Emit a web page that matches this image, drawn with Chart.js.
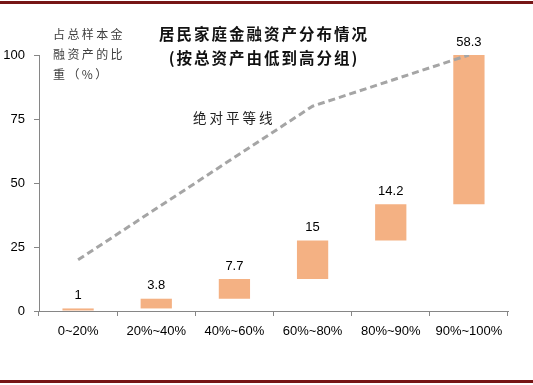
<!DOCTYPE html>
<html lang="zh-CN">
<head>
<meta charset="UTF-8">
<title>居民家庭金融资产分布情况</title>
<script src="https://cdn.jsdelivr.net/npm/chart.js"></script>
<style>
  body { margin: 0; background: #fff; }
  .wrap { position: relative; width: 533px; height: 385px; }
  .rule { position: absolute; left: 0; width: 533px; height: 3px; background: #761515; }
  .txt { position: absolute; font-family: "Noto Sans CJK SC", sans-serif; white-space: nowrap; }
  .title { left: 0; width: 528px; text-align: center; font-size: 15.5px; font-weight: bold; color: #111; letter-spacing: 2px; line-height: 22px; }
  .ytitle { left: 53px; top: 24px; font-size: 12px; color: #404040; letter-spacing: 2.4px; line-height: 20px; }
  .eq { left: 193px; top: 107px; font-size: 13.5px; color: #222; letter-spacing: 3px; }
</style>
</head>
<body>
<div class="wrap">
  <canvas id="c"></canvas>
  <div class="rule" style="top:1px"></div>
  <div class="rule" style="top:380px"></div>
  <div class="txt title" style="top:22px">居民家庭金融资产分布情况</div>
  <div class="txt title" style="top:46px">(按总资产由低到高分组)</div>
  <div class="txt ytitle">占总样本金<br>融资产的比<br>重（%）</div>
  <div class="txt eq">绝对平等线</div>
</div>
<script>
const categories = ['0~20%', '20%~40%', '40%~60%', '60%~80%', '80%~90%', '90%~100%'];
const shares = [1, 3.8, 7.7, 15, 14.2, 58.3];
const equalityLine = [20, 40, 60, 80, 90, 100];
const yTicks = [0, 25, 50, 75, 100];

// floating bars: each group sits on top of the running total
let run = 0;
const ranges = shares.map(v => {
    const r = [run, +(run + v).toFixed(1)];
    run += v;
    return r;
});

const valueLabels = {
    id: 'valueLabels',
    afterDatasetsDraw(chart) {
        const ctx = chart.ctx;
        const meta = chart.getDatasetMeta(0);
        ctx.save();
        ctx.font = '13px "Liberation Sans", Arial, sans-serif';
        ctx.fillStyle = '#000';
        ctx.textAlign = 'center';
        ctx.textBaseline = 'middle';
        meta.data.forEach((bar, i) => {
            const top = Math.min(bar.y, bar.base);
            ctx.fillText(String(shares[i]), bar.x, top - 13);
        });
        ctx.restore();
    }
};

new Chart(document.getElementById('c'), {
    data: {
        labels: categories,
        datasets: [{
            type: 'bar',
            data: ranges,
            backgroundColor: '#F4B183',
            barPercentage: 0.4,
            categoryPercentage: 1,
            order: 2
        }, {
            type: 'line',
            data: equalityLine,
            borderColor: '#A5A5A5',
            borderWidth: 3,
            borderDash: [7, 4],
            pointRadius: 0,
            fill: false,
            order: 1
        }]
    },
    options: {
        responsive: true,
        maintainAspectRatio: false,
        animation: false,
        layout: { padding: { top: 55, right: 25, left: 0, bottom: 0 } },
        plugins: { legend: { display: false }, tooltip: { enabled: false }, title: { display: false } },
        scales: {
            x: {
                grid: { drawOnChartArea: false, tickLength: 5, color: '#868686' },
                border: { color: '#868686' },
                ticks: { color: '#000', padding: 8, font: { family: '"Liberation Sans", Arial, sans-serif', size: 13 } },
                afterFit: s => { s.height = 74; }
            },
            y: {
                min: 0,
                max: 100,
                afterBuildTicks: s => { s.ticks = yTicks.map(v => ({ value: v })); },
                grid: { drawOnChartArea: false, tickLength: 5, color: '#868686' },
                border: { color: '#868686' },
                ticks: { color: '#000', padding: 9, font: { family: '"Liberation Sans", Arial, sans-serif', size: 13 } },
                afterFit: s => { s.width = 39; }
            }
        }
    },
    plugins: [valueLabels]
});
</script>
</body>
</html>
